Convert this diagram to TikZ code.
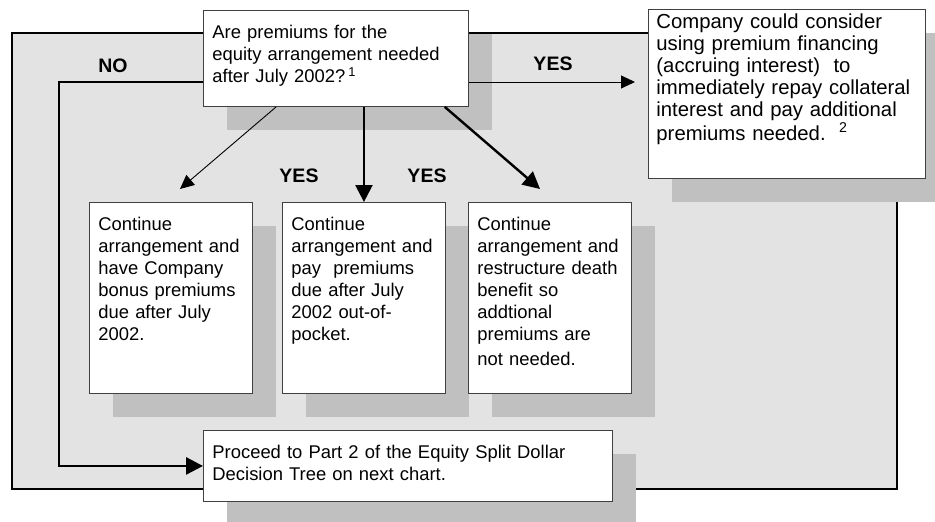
\documentclass[tikz,border=0pt]{standalone}
\usepackage{fontspec}
\setmainfont{Liberation Sans}
\usetikzlibrary{arrows.meta,shadows}
\definecolor{framegray}{RGB}{227,227,227}
\definecolor{shadowgray}{RGB}{192,192,192}
\definecolor{boxline}{RGB}{64,64,64}
\hyphenpenalty=10000

\begin{document}
\begin{tikzpicture}[x=1pt, y=-1pt,
    box/.style={draw=boxline, line width=0.9pt, fill=white, anchor=north west, align=left,
      inner xsep=9pt, inner ysep=6pt, text height=22pt,
      font=\fontsize{18.4}{22}\selectfont,
      drop shadow={fill=shadowgray, opacity=1, shadow xshift=24pt, shadow yshift=-24pt}},
    answer/.style={font=\fontsize{19.5}{22}\selectfont\bfseries, inner sep=0pt},
    heavy/.style={-{Triangle[length=17pt, width=17pt]}, line width=2.4pt},
    light/.style={-{Triangle[length=14pt, width=13pt]}, line width=0.9pt}]
        \path[fill=white, use as bounding box] (0,0) rectangle (935,522);
        \draw[fill=framegray, line width=1.6pt] (12,33) rectangle (897,489);

        \node[box, text width=247pt, text depth=62pt] (1) at (203,10) {Are premiums for the\\equity arrangement needed\\after July 2002?\,\textsuperscript{1}};
        \node[box, text width=261pt, inner xsep=8pt, text height=13pt, text depth=144pt, font=\fontsize{20.3}{22}\selectfont] (2) at (648,9) {Company could consider\\using premium financing\\(accruing interest)~ to\\immediately repay collateral\\interest and pay additional\\[2pt]premiums needed.~~\textsuperscript{2}};
        \node[box, text width=145pt, text depth=157pt] (3) at (89,202) {Continue\\arrangement and\\have Company\\bonus premiums\\due after July\\2002.};
        \node[box, text width=145pt, text depth=157pt] (4) at (282,202) {Continue\\arrangement and\\pay~ premiums\\due after July\\2002 out-of-\\pocket.};
        \node[box, text width=145pt, text depth=157pt] (5) at (468,202) {Continue\\arrangement and\\restructure death\\benefit so\\addtional\\premiums are\\[3pt]not needed.};
        \node[box, text width=391pt, text depth=37pt] (6) at (203,430) {Proceed to Part 2 of the Equity Split Dollar\\Decision Tree on next chart.};

        \coordinate (7) at (59,82);
        \coordinate (8) at (180,189);
        \coordinate (9) at (540,189);

        \draw[heavy, line width=2.8pt] (1.west |- 7) -- (7) |- (6.west);
        \draw[light, shorten >=13pt] (1.east |- 7) -- (2.west |- 7);
        \draw[light] (1.219) -- (8);
        \draw[heavy] (1.south -| 4.north) -- (4.north);
        \draw[heavy] (1.-24) -- (9);

        \node[answer] (10) at (113,66) {NO};
        \node[answer] (11) at (553,64) {YES};
        \node[answer] (12) at (299,176) {YES};
        \node[answer] (13) at (427,176) {YES};
      \end{tikzpicture}
\end{document}
